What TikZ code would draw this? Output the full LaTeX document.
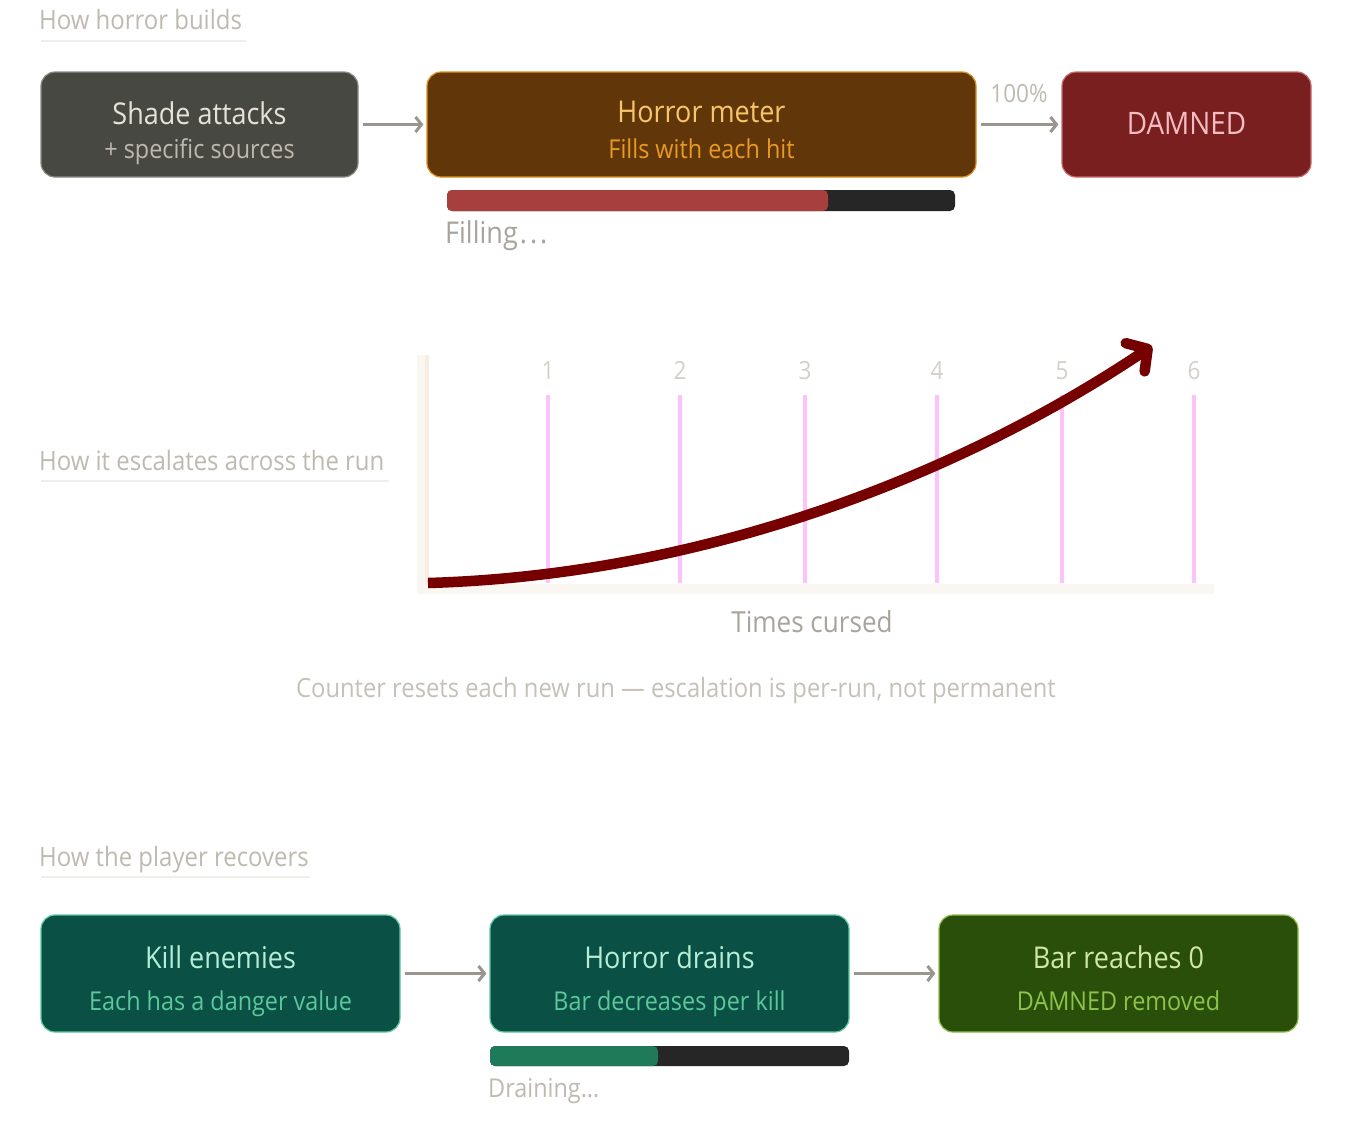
\documentclass[tikz,border=0pt]{standalone}
\usepackage{fontspec}
\setmainfont{Open Sans}[FakeStretch=0.9]
\usetikzlibrary{arrows.meta}
\definecolor{HRInk}{HTML}{BEBAB0}
\definecolor{HRRule}{HTML}{EFEEEA}
\definecolor{HRArrow}{HTML}{9A968E}
\definecolor{HRShade}{HTML}{484843}
\definecolor{HRShadeLine}{HTML}{8E8B84}
\definecolor{HRShadeTxt}{HTML}{E6E2D8}
\definecolor{HRShadeSub}{HTML}{BEB9AF}
\definecolor{HRMeter}{HTML}{613709}
\definecolor{HRMeterLine}{HTML}{E0901C}
\definecolor{HRMeterTxt}{HTML}{F7C56B}
\definecolor{HRMeterSub}{HTML}{E99A24}
\definecolor{HRDamned}{HTML}{7A1F20}
\definecolor{HRDamnedLine}{HTML}{C86A6E}
\definecolor{HRDamnedTxt}{HTML}{F4BDBF}
\definecolor{HRBarBg}{HTML}{262626}
\definecolor{HRBarRed}{HTML}{A83F3F}
\definecolor{HRBarGreen}{HTML}{1F7A5A}
\definecolor{HRKill}{HTML}{0A5045}
\definecolor{HRKillLine}{HTML}{5EC9A0}
\definecolor{HRKillTxt}{HTML}{B5EDD6}
\definecolor{HRKillSub}{HTML}{5CC89B}
\definecolor{HRZero}{HTML}{2A4F0B}
\definecolor{HRZeroLine}{HTML}{8CC04A}
\definecolor{HRZeroTxt}{HTML}{CFE8A8}
\definecolor{HRZeroSub}{HTML}{8EC44B}
\definecolor{HRGrid}{HTML}{FDC2FB}
\definecolor{HRAxis}{HTML}{FAF7F2}
\definecolor{HRAxisLine}{HTML}{F7EDE3}
\definecolor{HRCurve}{HTML}{760000}
\definecolor{HRTick}{HTML}{D3D0C8}
\definecolor{HRCaption}{HTML}{C5C1B7}
\definecolor{HRLabel}{HTML}{A8A49C}

\begin{document}
\begin{tikzpicture}[x=1pt,y=-1pt,
  box/.style={rounded corners=14pt,line width=1.2pt,inner sep=0pt},
  ttl/.style={anchor=base,inner sep=0pt,font=\fontsize{30}{36}\selectfont},
  sub/.style={anchor=base,inner sep=0pt,font=\fontsize{26}{31}\selectfont},
  hdr/.style={anchor=base west,inner sep=0pt,HRInk,font=\fontsize{26.6}{31}\selectfont},
  tick/.style={anchor=base,inner sep=0pt,HRTick,font=\fontsize{25}{30}\selectfont},
  flow/.style={HRArrow,line width=3pt,-{Straight Barb[length=6pt,width=15pt]},
    shorten <=4pt,shorten >=3pt}]
\path[use as bounding box] (0,0) rectangle (1356,1130);
\fill[white] (0,0) rectangle (1356,1130);

\node[hdr] (hd1) at (39,29) {How horror builds};
\draw[HRRule,line width=2pt] (41,40.5) -- (246,40.5);
\node[hdr] (hd2) at (39,470) {How it escalates across the run};
\draw[HRRule,line width=2pt] (41,481) -- (389,481);
\node[hdr] (hd3) at (39,866) {How the player recovers};
\draw[HRRule,line width=2pt] (41,877) -- (310,877);

\node[box,fill=HRShade,draw=HRShadeLine,minimum width=317pt,minimum height=105pt] (shade) at (199.5,124.5) {};
\node[ttl,HRShadeTxt] (shadet) at (199.5,124) {Shade attacks};
\node[sub,HRShadeSub] (shades) at (199.5,158) {+ specific sources};
\node[box,fill=HRMeter,draw=HRMeterLine,minimum width=549pt,minimum height=105pt] (meter) at (701.5,124.5) {};
\node[ttl,HRMeterTxt] (metert) at (701.5,122) {Horror meter};
\node[sub,HRMeterSub] (meters) at (701.5,158) {Fills with each hit};
\node[box,fill=HRDamned,draw=HRDamnedLine,minimum width=249pt,minimum height=105pt] (damned) at (1186.5,124.5) {};
\node[ttl,HRDamnedTxt,font=\fontsize{31}{36}\selectfont] (damnedt) at (1186.5,134) {DAMNED};
\draw[flow] (shade) -- (meter);
\draw[flow] (meter) -- node[anchor=base,yshift=22pt,inner sep=0pt,HRInk,font=\fontsize{25}{30}\selectfont] (pct) {100\%} (damned);

\fill[HRBarBg,rounded corners=5pt] (447,190) rectangle (955,211);
\fill[HRBarRed,rounded corners=5pt] (447,190) rectangle (828,211);
\node[sub,anchor=base west,HRLabel,font=\fontsize{30}{34}\selectfont] (fill) at (445,243) {Filling\kern2pt.\kern3pt.\kern3pt.};

\fill[HRAxis] (417,355) rectangle (429,594);
\fill[HRAxisLine] (425,355) rectangle (429,585);
\fill[HRAxis] (417,584) rectangle (1214,594);
\foreach \x/\n in {548/1,680/2,805/3,937/4,1062/5,1194/6}{
  \draw[HRGrid,line width=4.5pt] (\x,395) -- (\x,583);
  \node[tick] (n\n) at (\x,379) {\n};
}
\draw[HRCurve,line width=10.5pt,-{Straight Barb[length=15pt,width=34pt,line width=10.5pt,round]}] (428,583) .. controls (700,575) and (955,478) .. (1152,346);
\node[sub,HRLabel,font=\fontsize{29}{34}\selectfont] (axis) at (812,632) {Times cursed};
\node[sub,HRCaption,font=\fontsize{26.4}{30}\selectfont] (note) at (676,697) {Counter resets each new run — escalation is per-run, not permanent};

\node[box,fill=HRKill,draw=HRKillLine,minimum width=359pt,minimum height=117pt] (kill) at (220.5,973.5) {};
\node[ttl,HRKillTxt] (killt) at (220.5,968) {Kill enemies};
\node[sub,HRKillSub] (kills) at (220.5,1010) {Each has a danger value};
\node[box,fill=HRKill,draw=HRKillLine,minimum width=359pt,minimum height=117pt] (drains) at (669.5,973.5) {};
\node[ttl,HRKillTxt] (drainst) at (669.5,968) {Horror drains};
\node[sub,HRKillSub] (drainss) at (669.5,1010) {Bar decreases per kill};
\node[box,fill=HRZero,draw=HRZeroLine,minimum width=359pt,minimum height=117pt] (zero) at (1118.5,973.5) {};
\node[ttl,HRZeroTxt] (zerot) at (1118.5,968) {Bar reaches 0};
\node[sub,HRZeroSub] (zeros) at (1118.5,1010) {DAMNED removed};
\draw[flow] (kill) -- (drains);
\draw[flow] (drains) -- (zero);

\fill[HRBarBg,rounded corners=5pt] (490,1046) rectangle (849,1066);
\fill[HRBarGreen,rounded corners=5pt] (490,1046) rectangle (658,1066);
\node[sub,anchor=base west,HRInk] (drain) at (488,1097) {Draining…};
\end{tikzpicture}
\end{document}
